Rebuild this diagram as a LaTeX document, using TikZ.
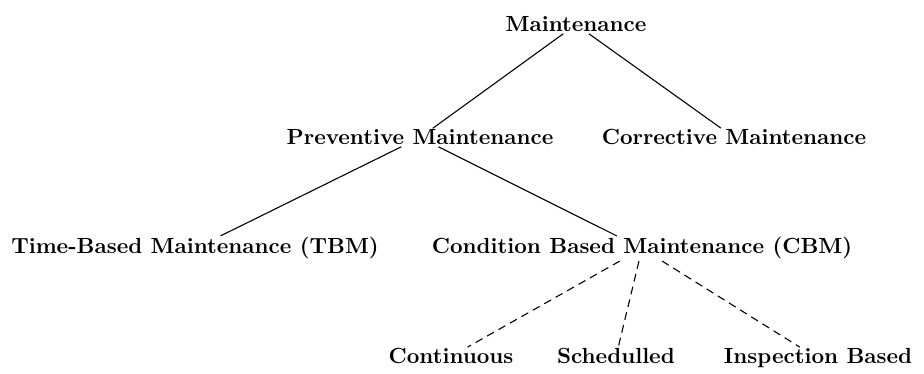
\documentclass[tikz,border=0pt]{standalone}
\usepackage{tikz}
\begin{document}
\begin{tikzpicture}[x=0.4566pt,y=-0.4566pt,line width=.5pt,
  lvl/.style={font=\bfseries,anchor=base,inner sep=.5pt},
  sub/.style={dash pattern=on 3.6pt off 2.4pt}]
\useasboundingbox (0,0) rectangle (924,374);
% tree nodes
\node[lvl] (maint) at (576,32){Maintenance};
\node[lvl] (prev) at (420,145){Preventive Maintenance};
\node[lvl] (corr) at (734,145){Corrective Maintenance};
\node[lvl] (tbm) at (195,254){Time-Based Maintenance (TBM)};
\node[lvl] (cbm) at (642,254){Condition Based Maintenance (CBM)};
\node[lvl] (cont) at (451,364){Continuous};
\node[lvl] (sched) at (616,364){Schedulled};
\node[lvl] (insp) at (818,364){Inspection Based};
% edges
\draw (maint)--(prev);
\draw (maint)--(corr);
\draw (prev)--(tbm);
\draw (prev)--(cbm);
\draw[sub] (cbm)--(cont);
\draw[sub] (cbm)--(sched);
\draw[sub] (cbm)--(insp);
\end{tikzpicture}
\end{document}
